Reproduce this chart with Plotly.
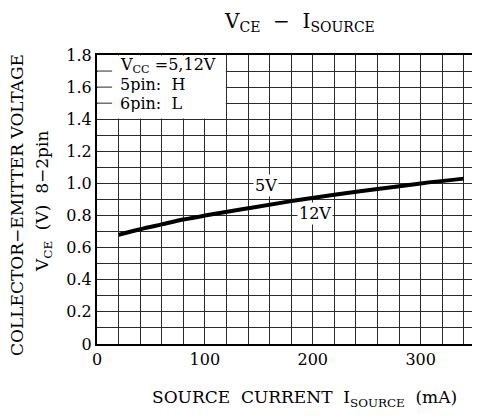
import plotly.graph_objects as go

# Data
i_source = [20, 40, 60, 80, 100, 140, 180, 220, 260, 300, 340]          # mA
v_ce     = [0.68, 0.715, 0.745, 0.775, 0.80, 0.845, 0.89, 0.93, 0.965, 1.00, 1.03]  # V

x_tickvals = [0, 100, 200, 300]
x_ticktext = ["0", "100", "200", "300"]
y_tickvals = [0, 0.2, 0.4, 0.6, 0.8, 1.0, 1.2, 1.4, 1.6, 1.8]
y_ticktext = ["0", "0.2", "0.4", "0.6", "0.8", "1.0", "1.2", "1.4", "1.6", "1.8"]

curve_labels = ["5V", "12V"]
curve_label_x = [157, 202]
curve_label_y = [0.99, 0.815]

cond_lines = ["V<sub>CC</sub> =5,12V", "5pin:\u00a0\u00a0H", "6pin:\u00a0\u00a0L"]
cond_y = [1.733, 1.619, 1.500]
cond_stub_y = [1.5, 1.6, 1.7]

FONT = "DejaVu Serif"
GRID = "#2a2a2a"
NB = "\u00a0"

# page body has an 8px margin: figure is laid out to land on the reference pixels
OFF = 8
W, H = 480 - OFF, 417 - OFF
ml, mt = 97 - OFF, 55 - OFF
plot_bottom = 344 - OFF
mb = H - plot_bottom
plotW, plotH = W - ml, plot_bottom - mt


def px(cx):   # canvas x -> paper x
    return (cx - OFF - ml) / plotW


def py(cy):   # canvas y -> paper y
    return (plot_bottom - (cy - OFF)) / plotH


fig = go.Figure()
fig.add_trace(go.Scatter(x=i_source, y=v_ce, mode="lines",
                         line=dict(color="black", width=4), line_shape="spline",
                         showlegend=False, hoverinfo="skip"))

# white condition box covering the grid (top-left)
fig.add_shape(type="rect", xref="x", yref="y", x0=0.6, x1=119.4, y0=1.404, y1=1.797,
              fillcolor="white", line=dict(width=0), layer="above")
for yy in cond_stub_y:
    fig.add_shape(type="line", xref="x", yref="y", x0=0, x1=14, y0=yy, y1=yy,
                  line=dict(color=GRID, width=1), layer="above")

for t, yy in zip(cond_lines, cond_y):
    fig.add_annotation(x=20, y=yy, xref="x", yref="y", text=t, showarrow=False,
                       xanchor="left", yanchor="middle", height=17, borderpad=0,
                       font=dict(family=FONT, size=16, color="black"))

for t, xx, yy in zip(curve_labels, curve_label_x, curve_label_y):
    fig.add_annotation(x=xx, y=yy, xref="x", yref="y", text=t, showarrow=False,
                       bgcolor="white", borderpad=1,
                       font=dict(family=FONT, size=16, color="black"))

# title
fig.add_annotation(x=px(299), y=py(22), xref="paper", yref="paper",
                   text="V<sub>CE</sub>" + NB * 2 + "−" + NB * 2 + "I<sub>SOURCE</sub>",
                   showarrow=False, xanchor="center", yanchor="middle",
                   font=dict(family=FONT, size=20, color="black"))

# y-axis title (two rotated lines)
fig.add_annotation(x=px(17), y=py(205), xref="paper", yref="paper",
                   text="COLLECTOR−EMITTER VOLTAGE", showarrow=False, textangle=-90,
                   xanchor="center", yanchor="middle",
                   font=dict(family=FONT, size=17, color="black"))
fig.add_annotation(x=px(43), y=py(201), xref="paper", yref="paper",
                   text="V<sub>CE</sub>" + NB * 2 + "(V)" + NB * 2 + "8−2pin", showarrow=False,
                   textangle=-90, xanchor="center", yanchor="middle",
                   font=dict(family=FONT, size=17, color="black"))
# x-axis title
fig.add_annotation(x=px(304), y=py(398), xref="paper", yref="paper",
                   text="SOURCE" + NB * 2 + "CURRENT" + NB * 2 + "I<sub>SOURCE</sub>" + NB * 2 + "(mA)",
                   showarrow=False, xanchor="center", yanchor="middle",
                   font=dict(family=FONT, size=17, color="black"))

fig.update_layout(
    width=W, height=H,
    margin=dict(l=ml, r=0, t=mt, b=mb, pad=0, autoexpand=False),
    paper_bgcolor="white", plot_bgcolor="white",
    font=dict(family=FONT, size=16, color="black"),
    xaxis=dict(range=[0, 355], tickvals=x_tickvals, ticktext=x_ticktext,
               showgrid=True, gridcolor=GRID, gridwidth=1,
               minor=dict(dtick=20, tick0=0, showgrid=True, gridcolor=GRID, gridwidth=1),
               showline=True, linecolor="black", linewidth=2, mirror=True,
               ticks="", zeroline=False, fixedrange=True, automargin=False,
               tickfont=dict(family=FONT, size=16)),
    yaxis=dict(range=[0, 1.8], tickvals=y_tickvals, ticktext=y_ticktext,
               showgrid=True, gridcolor=GRID, gridwidth=1,
               minor=dict(dtick=0.1, tick0=0, showgrid=True, gridcolor=GRID, gridwidth=1),
               ticks="", showline=True, linecolor="black", linewidth=2, mirror=False,
               zeroline=False, fixedrange=True, automargin=False,
               tickfont=dict(family=FONT, size=16)),
)

fig.write_html("out.html")
